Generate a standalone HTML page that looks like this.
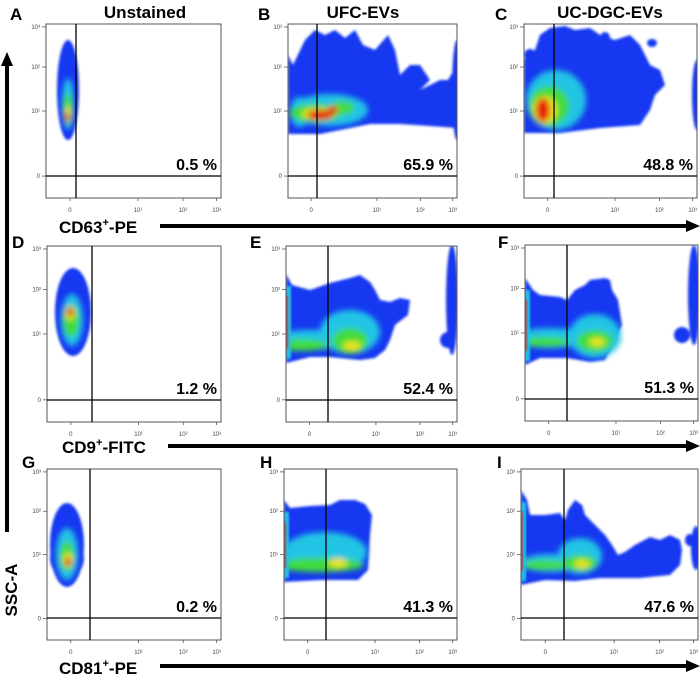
<!DOCTYPE html>
<html><head><meta charset="utf-8"><style>
html,body{margin:0;padding:0;background:#fff;width:700px;height:700px;overflow:hidden}
svg text{font-family:"Liberation Sans",sans-serif}
</style></head><body>
<svg id="fig" width="700" height="700" viewBox="0 0 700 700" xmlns="http://www.w3.org/2000/svg">
<defs>
<filter id="b1" x="-20%" y="-20%" width="140%" height="140%"><feGaussianBlur stdDeviation="1.2"/></filter>
<filter id="b3" x="-50%" y="-50%" width="200%" height="200%"><feGaussianBlur stdDeviation="3"/></filter>
</defs>
<g id="plots"></g>
<g id="annot" font-weight="bold">
<text x="145" y="18" font-size="17" text-anchor="middle">Unstained</text>
<text x="363" y="18" font-size="17" text-anchor="middle">UFC-EVs</text>
<text x="610" y="18" font-size="17" text-anchor="middle">UC-DGC-EVs</text>
<text x="59" y="233" font-size="17">CD63<tspan font-size="11" dy="-7">+</tspan><tspan dy="7">-PE</tspan></text>
<text x="62" y="453" font-size="17">CD9<tspan font-size="11" dy="-7">+</tspan><tspan dy="7">-FITC</tspan></text>
<text x="59" y="674" font-size="17">CD81<tspan font-size="11" dy="-7">+</tspan><tspan dy="7">-PE</tspan></text>
<text transform="translate(17,590) rotate(-90)" font-size="17" text-anchor="middle">SSC-A</text>
</g>
<g>
<line x1="160" y1="226" x2="688" y2="226" stroke="#000" stroke-width="4"/><polygon points="686,220 700,226 686,232" fill="#000"/>
<line x1="168" y1="446" x2="688" y2="446" stroke="#000" stroke-width="4"/><polygon points="686,440 700,446 686,452" fill="#000"/>
<line x1="160" y1="666" x2="688" y2="666" stroke="#000" stroke-width="4"/><polygon points="686,660 700,666 686,672" fill="#000"/>
<line x1="7" y1="532" x2="7" y2="64" stroke="#000" stroke-width="4"/><polygon points="1,66 7,52 13,66" fill="#000"/>
</g>
</svg>
<script>
const panelIds=['A','B','C','D','E','F','G','H','I'];
const percents=['0.5 %','65.9 %','48.8 %','1.2 %','52.4 %','51.3 %','0.2 %','41.3 %','47.6 %'];
const yTickLabels=['10³','10²','10¹','0'];
const xTickLabels=['0','10¹','10²','10³'];
const boxes=[[46,24,175,174],[288,24,169,174],[524,24,173,174],[47,246,174,176],[286,246,171,176],[525,245,173,176],[47,469,174,171],[284,469,173,171],[521,469,177,171]];
const gates=[76,317,554,92,328,567,90,326,564];
const letterPos=[[10,20],[258,20],[495,20],[12,248],[250,248],[498,248],[22,468],[260,468],[497,468]];
const C={b:'#1238f0',c:'#22c4e6',g:'#40dc3a',y:'#e6e41e',r:'#e81c10',o:'#f08a10'};
const outlines={
A:null,
B:[[288,55],[293,65],[305,40],[315,30],[325,35],[335,30],[345,38],[355,30],[363,45],[375,50],[388,35],[395,50],[400,75],[410,65],[420,65],[430,80],[420,90],[440,80],[448,80],[457,65],[457,128],[430,126],[400,124],[370,124],[340,130],[320,134],[288,134]],
C:[[524,60],[535,50],[540,35],[550,28],[565,26],[575,30],[590,28],[600,35],[615,40],[630,35],[640,45],[650,65],[660,70],[665,85],[655,95],[650,110],[640,125],[600,128],[560,133],[524,133]],
D:null,
E:[[286,274],[292,285],[310,290],[330,283],[350,278],[360,275],[370,282],[375,290],[380,300],[390,302],[400,298],[410,300],[408,315],[395,325],[390,340],[385,350],[375,358],[360,360],[330,357],[310,357],[286,363]],
F:[[525,278],[533,290],[540,295],[560,297],[567,300],[575,290],[585,285],[590,280],[605,278],[610,280],[612,290],[618,300],[622,325],[615,340],[605,360],[590,362],[567,358],[540,358],[525,365]],
G:null,
H:[[284,500],[290,508],[310,506],[330,505],[340,500],[355,500],[365,504],[372,515],[370,535],[368,570],[358,580],[320,580],[284,582]],
I:[[521,490],[527,500],[530,515],[545,515],[560,513],[565,520],[568,510],[575,500],[582,505],[585,515],[595,525],[605,535],[612,545],[618,555],[625,552],[635,545],[650,537],[660,540],[670,535],[680,540],[682,550],[680,565],[670,575],[640,578],[600,578],[575,581],[545,580],[521,585]]
};
const extraBlue={
B:[[457,90,5,50]],
C:[[628,42,6,5],[652,43,5,4],[605,38,5,6],[697,95,5,35],[530,55,6,6]],
E:[[452,300,6,55],[448,340,8,8]],
F:[[694,295,6,50],[682,335,8,8]],
I:[[696,548,5,22],[690,540,5,6]]
};
const layers={
A:[[68,90,11,50,'b'],[68,103,9,22,'b'],[68,104,6,26,'c'],[68,109,4.5,16,'g'],[68,114,3.5,8,'y'],[67,117,2.5,5,'r']],
B:[[330,110,38,16,'c'],[300,112,10,15,'c'],[315,113,26,9,'g'],[342,108,12,7,'g'],[318,114,16,6,'y'],[320,115,13,5,'r'],[333,110,5,4,'r']],
C:[[556,100,30,30,'c'],[549,106,20,20,'g'],[545,110,12,14,'y'],[543,110,7,12,'r']],
D:[[73,312,18,44,'b'],[73,325,17,20,'b'],[72,320,11,26,'c'],[71,321,8,16,'g'],[70,313,5,7,'y'],[70,312,3.5,4.5,'r']],
E:[[350,332,30,22,'c'],[310,340,38,10,'c'],[350,341,18,13,'g'],[300,345,28,6,'g'],[352,346,9,5,'y']],
F:[[595,336,26,22,'c'],[550,338,38,10,'c'],[595,341,18,11,'g'],[545,342,24,5,'g'],[597,342,8,4.5,'y']],
G:[[67,545,17,42,'b'],[67,558,17,20,'b'],[67,554,11,26,'c'],[67,556,7,15,'g'],[68,560,5,7,'y'],[68,562,3.5,4,'r']],
H:[[325,552,42,20,'c'],[320,565,44,7,'g'],[338,563,9,5,'y']],
I:[[580,556,22,18,'c'],[550,563,30,9,'c'],[580,563,17,8,'g'],[545,565,24,5,'g'],[582,564,8,4.5,'y']]
};
const stripes={E:1,F:1,H:1,I:1};
const NS='http://www.w3.org/2000/svg';
const root=document.getElementById('plots');
function mk(tag,attrs,parent){const e=document.createElementNS(NS,tag);for(const k in attrs)e.setAttribute(k,attrs[k]);(parent||root).appendChild(e);return e;}
const yFrac=[0.017,0.247,0.5,0.874];
const xFrac=[0.137,0.526,0.783,0.975];
panelIds.forEach((id,i)=>{
  const [x,y,w,h]=boxes[i];
  const g=mk('g',{});
  
  
  const cp=mk('clipPath',{id:'cp'+id},g);mk('rect',{x:x,y:y,width:w,height:h},cp);
  const d=mk('g',{'clip-path':'url(#cp'+id+')'},g);
  
  
  const lb=mk('g',{filter:'url(#b1)'},d);
  if(outlines[id]) mk('polygon',{points:outlines[id].map(p=>p.join(',')).join(' '),fill:C.b},lb);
  (extraBlue[id]||[]).forEach(e=>mk('ellipse',{cx:e[0],cy:e[1],rx:e[2],ry:e[3],fill:C.b},lb));
  const lc=mk('g',{filter:'url(#b3)'},d);
  (layers[id]||[]).forEach(e=>mk('ellipse',{cx:e[0],cy:e[1],rx:e[2],ry:e[3],fill:C[e[4]]},e[4]==='b'?lb:lc));
  if(stripes[id]){const pts=outlines[id];const top=Math.min(...pts.filter(p=>p[0]<x+6).map(p=>p[1]));const bot=Math.max(...pts.filter(p=>p[0]<x+6).map(p=>p[1]));
    mk('rect',{x:x,y:top+12,width:5,height:bot-top-16,fill:C.c,filter:'url(#b1)'},d);
    mk('rect',{x:x,y:top+22,width:2,height:bot-top-36,fill:C.r,filter:'url(#b1)'},d);}
  mk('rect',{x:x,y:y,width:w,height:h,fill:'none',stroke:'#555','stroke-width':1},g);
  const zy=y+h-22;
  mk('line',{x1:x,y1:zy,x2:x+w,y2:zy,stroke:'#000','stroke-width':1.3},g);
  mk('line',{x1:gates[i],y1:y,x2:gates[i],y2:y+h,stroke:'#000','stroke-width':1.3},g);
  yTickLabels.forEach((t,k)=>{const ty=y+h*yFrac[k];
    mk('line',{x1:x-4,y1:ty,x2:x,y2:ty,stroke:'#555','stroke-width':0.8},g);
    const tx=mk('text',{x:x-6,y:ty+2,'font-size':6,'text-anchor':'end',fill:'#444'},g);tx.textContent=t;});
  xTickLabels.forEach((t,k)=>{const tx0=x+w*xFrac[k];
    mk('line',{x1:tx0,y1:y+h,x2:tx0,y2:y+h+3,stroke:'#555','stroke-width':0.8},g);
    const tx=mk('text',{x:tx0,y:y+h+14,'font-size':6,'text-anchor':'middle',fill:'#444'},g);tx.textContent=t;});
  const pt=mk('text',{x:x+w-4,y:zy-6,'font-size':16,'font-weight':'bold','text-anchor':'end'},g);
  
  
  pt.textContent=percents[i];
  const lt=mk('text',{x:letterPos[i][0],y:letterPos[i][1],'font-size':17,'font-weight':'bold'},g);
  
  
  lt.textContent=id;
});
</script>
</body></html>
